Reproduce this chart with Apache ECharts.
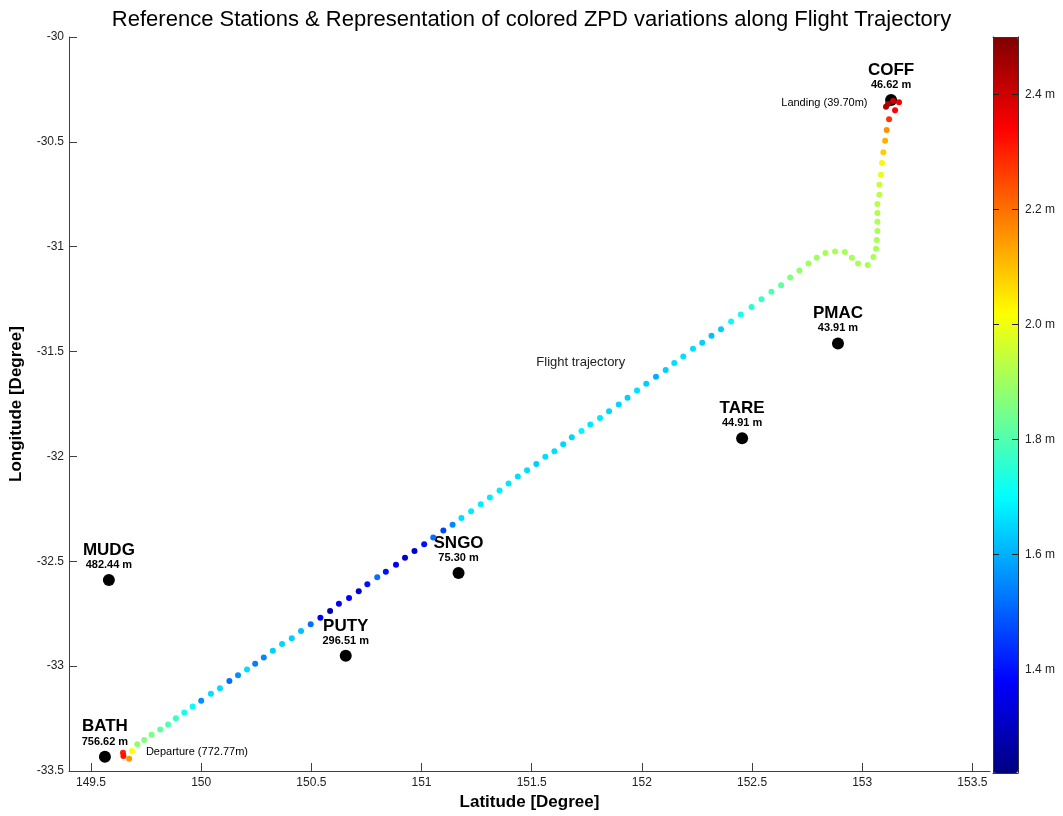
<!DOCTYPE html>
<html>
<head>
<meta charset="utf-8">
<script src="https://cdn.jsdelivr.net/npm/echarts@6/dist/echarts.min.js"></script>
<style>
html,body{margin:0;padding:0;background:#fff;}
#chart{width:1063px;height:816px;}
</style>
</head>
<body>
<div id="chart"></div>
<script>
// ---- Data ----
const trajLon = [149.645,149.647,149.673,149.686,149.710,149.741,149.775,149.814,149.850,149.885,
149.923,149.961,150.000,150.044,150.085,150.128,150.167,150.208,150.245,150.284,
150.325,150.367,150.411,150.453,150.497,150.541,150.585,150.625,150.671,150.715,
150.754,150.799,150.838,150.884,150.925,150.968,151.012,151.053,151.099,151.141,
151.181,151.225,151.269,151.310,151.354,151.395,151.437,151.479,151.521,151.562,
151.603,151.643,151.682,151.726,151.766,151.810,151.851,151.895,151.935,151.978,
152.020,152.064,152.108,152.147,152.188,152.232,152.274,152.316,152.359,152.405,
152.449,152.498,152.543,152.588,152.632,152.673,152.715,152.756,152.794,152.833,
152.877,152.921,152.953,152.981,153.025,153.051,153.063,153.066,153.069,153.069,
153.069,153.069,153.078,153.078,153.085,153.090,153.096,153.104,153.111,153.122,
153.149,153.167,153.140,153.117,153.108];
const trajLat = [-33.413,-33.429,-33.441,-33.405,-33.373,-33.352,-33.327,-33.302,-33.278,-33.248,
-33.221,-33.192,-33.165,-33.132,-33.105,-33.071,-33.043,-33.016,-32.988,-32.959,
-32.927,-32.895,-32.867,-32.833,-32.800,-32.769,-32.737,-32.703,-32.675,-32.643,
-32.610,-32.576,-32.550,-32.516,-32.483,-32.451,-32.419,-32.386,-32.353,-32.326,
-32.294,-32.261,-32.228,-32.196,-32.162,-32.129,-32.096,-32.066,-32.036,-32.002,
-31.975,-31.942,-31.909,-31.879,-31.848,-31.817,-31.785,-31.752,-31.720,-31.686,
-31.653,-31.620,-31.588,-31.555,-31.523,-31.487,-31.458,-31.425,-31.393,-31.357,
-31.323,-31.287,-31.250,-31.215,-31.184,-31.147,-31.114,-31.080,-31.053,-31.030,
-31.023,-31.025,-31.053,-31.080,-31.087,-31.049,-31.010,-30.968,-30.925,-30.881,
-30.839,-30.796,-30.752,-30.704,-30.657,-30.601,-30.549,-30.495,-30.443,-30.392,
-30.349,-30.311,-30.305,-30.319,-30.333];
const trajZpd = [2.30,2.32,2.15,2.02,1.88,1.86,1.85,1.82,1.80,1.77,
1.72,1.70,1.56,1.66,1.66,1.52,1.56,1.66,1.54,1.55,
1.64,1.65,1.64,1.62,1.52,1.38,1.28,1.38,1.38,1.32,
1.40,1.52,1.40,1.38,1.32,1.32,1.40,1.52,1.46,1.55,
1.66,1.68,1.68,1.68,1.68,1.67,1.66,1.66,1.64,1.66,
1.66,1.65,1.65,1.69,1.67,1.67,1.65,1.65,1.64,1.66,
1.64,1.60,1.64,1.66,1.66,1.66,1.64,1.62,1.64,1.70,
1.72,1.75,1.76,1.80,1.82,1.86,1.88,1.90,1.90,1.91,
1.91,1.91,1.91,1.91,1.91,1.91,1.91,1.91,1.91,1.92,
1.92,1.93,1.94,1.95,1.99,2.03,2.08,2.12,2.16,2.28,
2.34,2.36,2.40,2.44,2.45];

const stationNames  = ['BATH','MUDG','PUTY','SNGO','TARE','PMAC','COFF'];
const stationLon    = [149.563,149.581,150.656,151.168,152.455,152.890,153.131];
const stationLat    = [-33.432,-32.589,-32.951,-32.556,-31.913,-31.461,-30.300];
const stationHeight = [756.62,482.44,296.51,75.30,44.91,43.91,46.62];

const xTickValues = [149.5,150,150.5,151,151.5,152,152.5,153,153.5];
const colorTickValues = [1.4,1.6,1.8,2.0,2.2,2.4];
const zpdMin = 1.22, zpdMax = 2.5;

const titleText = 'Reference Stations & Representation of colored ZPD variations along Flight Trajectory';
const annotations = [
  {text:'Departure (772.77m)', lon:149.749, lat:-33.409, side:'right'},
  {text:'Landing (39.70m)', lon:153.024, lat:-30.313, side:'left'},
  {text:'Flight trajectory', lon:151.521, lat:-31.552, side:'right', big:true}
];

// ---- Build ----
const jet = ['#000080','#0000ff','#0080ff','#00ffff','#80ff80','#ffff00','#ff8000','#ff0000','#800000'];
const trajData = trajLon.map((v,i)=>[v, trajLat[i], trajZpd[i]]);
const stationData = stationNames.map((n,i)=>({name:n, value:[stationLon[i], stationLat[i]], h:stationHeight[i]}));
const font = '"Liberation Sans", Arial, Helvetica, sans-serif';

const chart = echarts.init(document.getElementById('chart'), null, {renderer:'canvas'});
chart.setOption({
  backgroundColor:'#ffffff',
  animation:false,
  textStyle:{fontFamily:font},
  title:{
    text:titleText, left:'center', top:4,
    textStyle:{fontFamily:font, fontSize:22, fontWeight:'normal', color:'#000'}
  },
  grid:[
    {left:68, right:73, top:37, bottom:43, containLabel:false},
    {left:993, width:25, top:37, height:736, containLabel:false}
  ],
  xAxis:[
    {type:'value', gridIndex:0, min:149.4, max:153.58,
     name:'Latitude [Degree]', nameLocation:'middle', nameGap:23,
     nameTextStyle:{fontFamily:font, fontSize:17, fontWeight:'bold', color:'#000'},
     axisLine:{show:true, lineStyle:{color:'#404040', width:1}},
     axisTick:{show:true, inside:true, length:8, customValues:xTickValues, lineStyle:{color:'#404040'}},
     axisLabel:{customValues:xTickValues, color:'#222', fontSize:12, margin:6, fontFamily:font},
     splitLine:{show:false}},
    {type:'value', gridIndex:1, min:0, max:1, position:'bottom',
     axisLine:{show:true, onZero:false, lineStyle:{color:'#333'}}, axisTick:{show:false}, axisLabel:{show:false}, splitLine:{show:false}, z:10},
    {type:'value', gridIndex:1, min:0, max:1, position:'top',
     axisLine:{show:true, onZero:false, lineStyle:{color:'#333'}}, axisTick:{show:false}, axisLabel:{show:false}, splitLine:{show:false}, z:10}
  ],
  yAxis:[
    {type:'value', gridIndex:0, min:-33.5, max:-30, interval:0.5,
     name:'Longitude [Degree]', nameLocation:'middle', nameGap:44, nameRotate:90,
     nameTextStyle:{fontFamily:font, fontSize:17, fontWeight:'bold', color:'#000'},
     axisLine:{show:true, lineStyle:{color:'#404040', width:1}},
     axisTick:{show:true, inside:true, length:8, lineStyle:{color:'#404040'}},
     axisLabel:{color:'#222', fontSize:12, margin:5, fontFamily:font},
     splitLine:{show:false}},
    {type:'value', gridIndex:1, min:zpdMin, max:zpdMax, position:'right',
     axisLine:{show:true, onZero:false, lineStyle:{color:'#333'}},
     axisTick:{show:true, inside:true, length:6, customValues:colorTickValues, lineStyle:{color:'#222'}},
     axisLabel:{customValues:colorTickValues, formatter:v=>v.toFixed(1)+' m', color:'#222', fontSize:12, margin:7, fontFamily:font},
     splitLine:{show:false}, z:10},
    {type:'value', gridIndex:1, min:zpdMin, max:zpdMax, position:'left',
     axisLine:{show:true, onZero:false, lineStyle:{color:'#333'}},
     axisTick:{show:true, inside:true, length:6, customValues:colorTickValues, lineStyle:{color:'#222'}},
     axisLabel:{show:false}, splitLine:{show:false}, z:10}
  ],
  visualMap:{
    type:'continuous', min:zpdMin, max:zpdMax, dimension:2, seriesIndex:0,
    orient:'vertical', left:993, top:37, itemWidth:25, itemHeight:736,
    padding:0, calculable:false, realtime:false, hoverLink:false,
    inRange:{color:jet}, text:null, z:4
  },
  series:[
    {type:'scatter', xAxisIndex:0, yAxisIndex:0, data:trajData, symbolSize:6, z:3,
     itemStyle:{opacity:1}},
    {type:'scatter', xAxisIndex:0, yAxisIndex:0, data:stationData, symbolSize:12, z:2,
     itemStyle:{color:'#000', opacity:1},
     label:{show:true, position:'top', distance:3, color:'#000',
       formatter:p=>'{n|'+p.name+'}\n{h|'+p.data.h.toFixed(2)+' m}',
       rich:{
         n:{fontFamily:font, fontSize:17, fontWeight:'bold', color:'#000', lineHeight:18, align:'center'},
         h:{fontFamily:font, fontSize:11, fontWeight:'bold', color:'#000', lineHeight:12, align:'center'}
       }}},
    {type:'scatter', xAxisIndex:0, yAxisIndex:0, symbolSize:0, silent:true, z:5,
     itemStyle:{opacity:1},
     data:annotations.map(a=>({name:a.text, value:[a.lon,a.lat],
       label:{show:true, position:a.side, distance:0, formatter:a.text,
         fontFamily:font, fontSize:a.big?13:11, color:a.big?'#222':'#000'}}))},
    {type:'scatter', xAxisIndex:1, yAxisIndex:1, data:[]}
  ]
});
</script>
</body>
</html>
